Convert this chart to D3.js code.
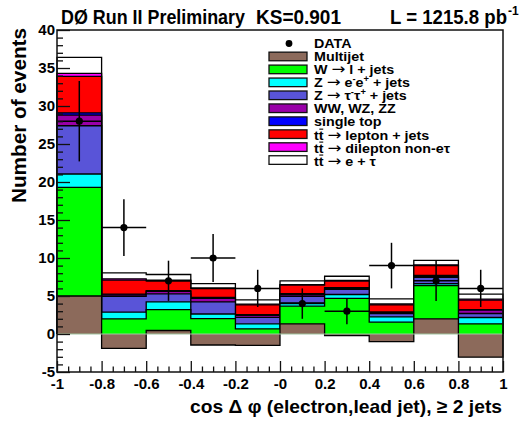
<!DOCTYPE html>
<html><head><meta charset="utf-8">
<script src="https://cdn.jsdelivr.net/npm/d3@7"></script>
<style>
body{margin:0;background:#fff;}
svg{display:block;font-family:"Liberation Sans",Arial,Helvetica,sans-serif;font-weight:bold;}
</style></head><body>
<svg id="c" width="522" height="428"></svg>
<script>
// bin edges (categories) of cos Δφ
const binEdges = [-1, -0.8, -0.6, -0.4, -0.2, 0, 0.2, 0.4, 0.6, 0.8, 1];
// per-bin expected events for each background (stack order bottom -> top)
const multijet  = [5.0, -1.9, 0.46, -1.45, -1.5, 1.34, -0.2, -1.0, 2.0, -3.05];
const wjets     = [14.3, 3.9, 2.74, 3.47, 2.18, 2.32, 4.9, 2.55, 4.38, 4.39];
const zee       = [1.75, 0.87, 1.04, 0.61, 0.66, 0.44, 0.5, 0.71, 0.26, 0.83];
const ztautau   = [6.35, 2.1, 1.05, 1.59, 0.86, 0.87, 0.66, 0.44, 0.83, 0.53];
const diboson   = [1.4, 0.18, 0.31, 0.48, 0.25, 0.23, 0.14, 0.1, 0.13, 0.43];
const singletop = [0.3, 0.1, 0.1, 0.1, 0.1, 0.1, 0.1, 0.1, 0.1, 0.07];
const ttLepJets = [4.8, 1.83, 1.3, 1.17, 1.29, 1.12, 0.85, 0.94, 1.3, 1.25];
const ttDilep   = [0.4, 0.18, 0.1, 0.08, 0.08, 0.08, 0.1, 0.11, 0.1, 0.15];
const ttETau    = [2.1, 0.79, 0.73, 0.59, 0.58, 0.5, 0.55, 0.68, 0.6, 0.65];
// observed data
const dataCounts = [28, 14, 7, 10, 6, 4, 3, 9, 7, 6];
// ticks
const xTickValues = [-1, -0.8, -0.6, -0.4, -0.2, 0, 0.2, 0.4, 0.6, 0.8, 1];
const xTickLabels = ["-1", "-0.8", "-0.6", "-0.4", "-0.2", "-0", "0.2", "0.4", "0.6", "0.8", "1"];
const yTickValues = [-5, 0, 5, 10, 15, 20, 25, 30, 35, 40];
const seriesColors = ["#8c6a5b", "#00ff00", "#00ffff", "#5954d8", "#9900a8", "#0000ff", "#ff0000", "#ff00ff", "#ffffff"];

const svg = d3.select("#c");
svg.append("rect").attr("width", 522).attr("height", 428).attr("fill", "#fff");
const m = {l: 57, r: 503, t: 30, b: 372};
const x = d3.scaleLinear().domain([-1, 1]).range([m.l, m.r]);
const y = d3.scaleLinear().domain([-5, 40]).range([m.b, m.t]);

const series = [multijet, wjets, zee, ztautau, diboson, singletop, ttLepJets, ttDilep, ttETau];
const cum = [];
let run = multijet.map(() => 0);
series.forEach(s => { run = run.map((v, i) => v + s[i]); cum.push(run.slice()); });

const plot = svg.append("g");
for (let k = cum.length - 1; k >= 0; k--) {
  const c = cum[k];
  let d = `M${x(binEdges[0])},${y(0)}`;
  c.forEach((v, i) => { d += `V${y(v)}H${x(binEdges[i + 1])}`; });
  d += `V${y(0)}`;
  plot.append("path").attr("d", d + "Z").attr("fill", seriesColors[k]).attr("stroke", "none");
  plot.append("path").attr("d", d).attr("fill", "none").attr("stroke", "#000").attr("stroke-width", 1.3);
}
// zero baseline
plot.append("line").attr("x1", x(-1)).attr("x2", x(1)).attr("y1", y(0)).attr("y2", y(0))
  .attr("stroke", "#9fc49f").attr("stroke-width", 1);

// data points
const dg = svg.append("g").attr("stroke", "#000").attr("stroke-width", 1.5);
dataCounts.forEach((n, i) => {
  const xc = x((binEdges[i] + binEdges[i + 1]) / 2);
  const e = Math.sqrt(n);
  dg.append("line").attr("x1", x(binEdges[i])).attr("x2", x(binEdges[i + 1])).attr("y1", y(n)).attr("y2", y(n));
  dg.append("line").attr("x1", xc).attr("x2", xc).attr("y1", y(n - e)).attr("y2", y(n + e));
  dg.append("circle").attr("cx", xc).attr("cy", y(n)).attr("r", 3.6).attr("fill", "#000").attr("stroke", "none");
});

// frame
svg.append("rect").attr("x", m.l).attr("y", m.t).attr("width", m.r - m.l).attr("height", m.b - m.t)
  .attr("fill", "none").attr("stroke", "#111").attr("stroke-width", 1.5);

// axes
const yMinor = d3.range(-5, 41, 1).filter(v => v % 5 !== 0);
const xMinor = d3.range(0, 41, 1).map(i => -1 + i * 0.05).filter((v, i) => i % 4 !== 0);
function styleAxis(g) {
  g.select(".domain").remove();
  g.selectAll("line").attr("stroke", "#111").attr("stroke-width", 1.3);
  g.selectAll("text").attr("font-size", 15).attr("font-weight", "bold")
    .attr("font-family", "'Liberation Sans', Arial, sans-serif").attr("fill", "#000");
}
svg.append("g").attr("transform", `translate(${m.l},0)`)
  .call(d3.axisLeft(y).tickValues(yMinor).tickSize(-6).tickFormat("")).call(styleAxis);
svg.append("g").attr("transform", `translate(${m.l},0)`)
  .call(d3.axisLeft(y).tickValues(yTickValues).tickSize(-13).tickSizeOuter(0).tickPadding(2).tickFormat(d => d))
  .call(styleAxis);
svg.append("g").attr("transform", `translate(0,${m.b})`)
  .call(d3.axisBottom(x).tickValues(xMinor).tickSize(-5.5).tickFormat("")).call(styleAxis);
svg.append("g").attr("transform", `translate(0,${m.b})`)
  .call(d3.axisBottom(x).tickValues(xTickValues).tickSize(-11).tickSizeOuter(0).tickPadding(6)
    .tickFormat((d, i) => xTickLabels[i]))
  .call(styleAxis);

// titles
svg.append("text").attr("x", 61).attr("y", 24).attr("font-size", 20)
  .attr("textLength", 184).attr("lengthAdjust", "spacingAndGlyphs").text("DØ Run II Preliminary");
svg.append("text").attr("x", 256).attr("y", 24).attr("font-size", 20)
  .attr("textLength", 85).attr("lengthAdjust", "spacingAndGlyphs").text("KS=0.901");
svg.append("text").attr("x", 390).attr("y", 24).attr("font-size", 20)
  .attr("textLength", 117).attr("lengthAdjust", "spacingAndGlyphs").text("L = 1215.8 pb");
svg.append("text").attr("x", 508).attr("y", 15).attr("font-size", 12).text("-1");

svg.append("text").attr("text-anchor", "end").attr("x", 502).attr("y", 413).attr("font-size", 19)
  .attr("textLength", 312).attr("lengthAdjust", "spacingAndGlyphs")
  .text("cos Δ φ (electron,lead jet), ≥ 2 jets");
svg.append("text").attr("transform", "translate(25.5,203) rotate(-90)").attr("font-size", 20)
  .attr("textLength", 175).attr("lengthAdjust", "spacingAndGlyphs").text("Number of events");

// legend: segment kinds: n = normal, s = superscript, a = arrow, b = t with bar
const legendLabels = [
  [["n", "DATA"]],
  [["n", "Multijet"]],
  [["n", "W "], ["a", "→"], ["n", " l + jets"]],
  [["n", "Z "], ["a", "→"], ["n", " e"], ["s", "-"], ["n", "e"], ["s", "+"], ["n", " + jets"]],
  [["n", "Z "], ["a", "→"], ["n", " τ"], ["s", "-"], ["n", "τ"], ["s", "+"], ["n", " + jets"]],
  [["n", "WW, WZ, ZZ"]],
  [["n", "single top"]],
  [["n", "t"], ["b", "t"], ["n", " "], ["a", "→"], ["n", " lepton + jets"]],
  [["n", "t"], ["b", "t"], ["n", " "], ["a", "→"], ["n", " dilepton non-eτ"]],
  [["n", "t"], ["b", "t"], ["n", " "], ["a", "→"], ["n", " e + τ"]]
];
const lg = svg.append("g");
legendLabels.forEach((segs, i) => {
  const cy = 43.5 + 12.95 * i;
  if (i === 0) {
    lg.append("circle").attr("cx", 289).attr("cy", cy).attr("r", 3.4).attr("fill", "#000");
  } else {
    lg.append("rect").attr("x", 269).attr("y", cy - 4.3).attr("width", 38).attr("height", 8.6)
      .attr("fill", seriesColors[i - 1]).attr("stroke", "#111").attr("stroke-width", 1.3);
  }
  const hasBar = segs.some(s => s[0] === "b");
  const base = cy + (hasBar ? 5.8 : 4.8);
  const row = lg.append("g").attr("transform", `translate(314,${base}) scale(1.1,1)`);
  const t = row.append("text").attr("x", 0).attr("y", 0).attr("font-size", 13);
  const bars = [];
  segs.forEach(([kind, str]) => {
    const ts = t.append("tspan").text(str);
    if (kind === "s") ts.attr("font-size", 8.5).attr("y", -5);
    else ts.attr("y", 0);
    if (kind === "a") ts.attr("font-family", "'DejaVu Sans', sans-serif").attr("font-weight", "normal")
      .attr("font-size", 15);
    if (kind === "b") bars.push(ts);
  });
  bars.forEach(ts => {
    const n = ts.node();
    const p = n.getStartPositionOfChar(0);
    const w = n.getComputedTextLength();
    row.append("line").attr("x1", p.x + 0.5).attr("x2", p.x + w - 0.3)
      .attr("y1", -10.8).attr("y2", -10.8).attr("stroke", "#000").attr("stroke-width", 1.1);
  });
});
</script>
</body></html>
